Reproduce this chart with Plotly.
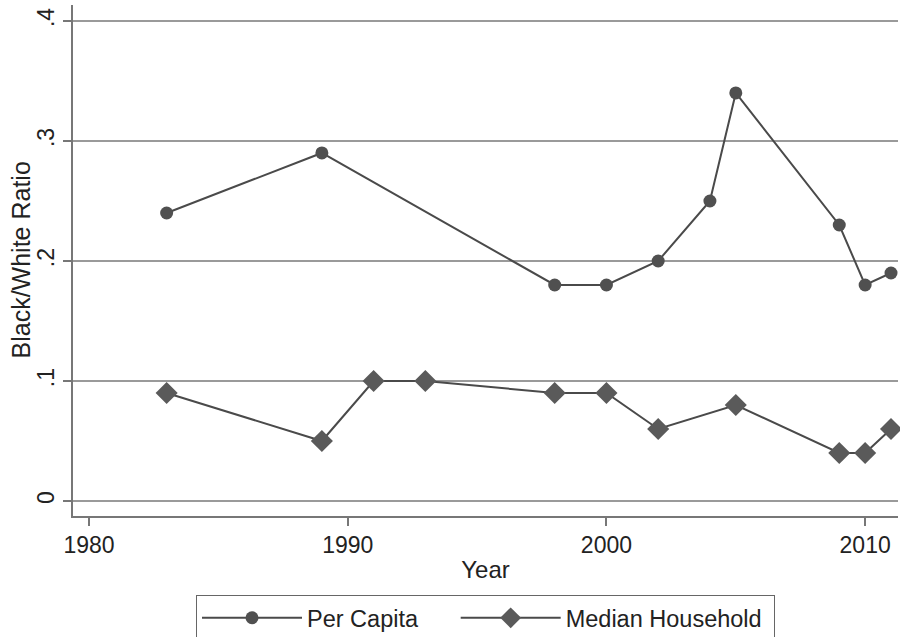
import plotly.graph_objects as go

pc_years = [1983, 1989, 1998, 2000, 2002, 2004, 2005, 2009, 2010, 2011]
pc_vals = [0.24, 0.29, 0.18, 0.18, 0.20, 0.25, 0.34, 0.23, 0.18, 0.19]
mh_years = [1983, 1989, 1991, 1993, 1998, 2000, 2002, 2005, 2009, 2010, 2011]
mh_vals = [0.09, 0.05, 0.10, 0.10, 0.09, 0.09, 0.06, 0.08, 0.04, 0.04, 0.06]
x_ticks = [1980, 1990, 2000, 2010]
y_ticks = [0, 0.1, 0.2, 0.3, 0.4]
y_labels = ["0", ".1", ".2", ".3", ".4"]
series_names = ["Per Capita", "Median Household"]

FONT = "Liberation Sans, Arial, sans-serif"
PAD = "\u00a0" * 5
fig = go.Figure()
fig.add_trace(go.Scatter(x=pc_years, y=pc_vals, mode="lines+markers", name=series_names[0] + PAD,
                         line=dict(color="#4a4a4a", width=2), cliponaxis=False,
                         marker=dict(symbol="circle", size=13, color="#505050")))
fig.add_trace(go.Scatter(x=mh_years, y=mh_vals, mode="lines+markers", name=series_names[1] + "\u00a0",
                         line=dict(color="#4a4a4a", width=2), cliponaxis=False,
                         marker=dict(symbol="diamond", size=17, color="#5a5a5a")))

fig.update_layout(
    width=900, height=637,
    margin=dict(l=73, r=2, t=5, b=121),
    paper_bgcolor="white", plot_bgcolor="white",
    font=dict(family=FONT, size=23, color="#222"),
    showlegend=True,
    legend=dict(orientation="h", x=(196 - 73) / 825, xanchor="left",
                yref="container", y=1 - 595 / 637, yanchor="top",
                bordercolor="#666", borderwidth=1, itemwidth=100,
                font=dict(family=FONT, size=23.5, color="#222"), tracegroupgap=0),
    xaxis=dict(range=[1979.38, 2011.27], tickvals=x_ticks, ticks="outside", ticklen=8,
               tickcolor="#777", tickwidth=1.5, showgrid=False, zeroline=False,
               showline=True, linecolor="#777", linewidth=1.5, automargin=False,
               tickfont=dict(family=FONT, size=23, color="#222"),
               title=dict(text="Year", standoff=4, font=dict(family=FONT, size=24, color="#222"))),
    yaxis=dict(range=[-0.0125, 0.4133], tickvals=y_ticks, ticktext=y_labels, tickangle=-90,
               ticks="outside", ticklen=8, tickcolor="#777", tickwidth=1.5,
               showgrid=True, gridcolor="#9a9a9a", gridwidth=1.5, zeroline=False,
               showline=True, linecolor="#777", linewidth=1.5, automargin=False,
               tickfont=dict(family=FONT, size=23, color="#222")),
    annotations=[dict(text="Black/White Ratio", xref="paper", yref="paper", x=0, y=0.5,
                      xanchor="center", yanchor="middle", xshift=-(73 - 20), textangle=-90,
                      showarrow=False, font=dict(family=FONT, size=25, color="#222"))],
)
fig.write_html("out.html", config={"displayModeBar": False},
               post_script="document.body.style.margin='0';")
